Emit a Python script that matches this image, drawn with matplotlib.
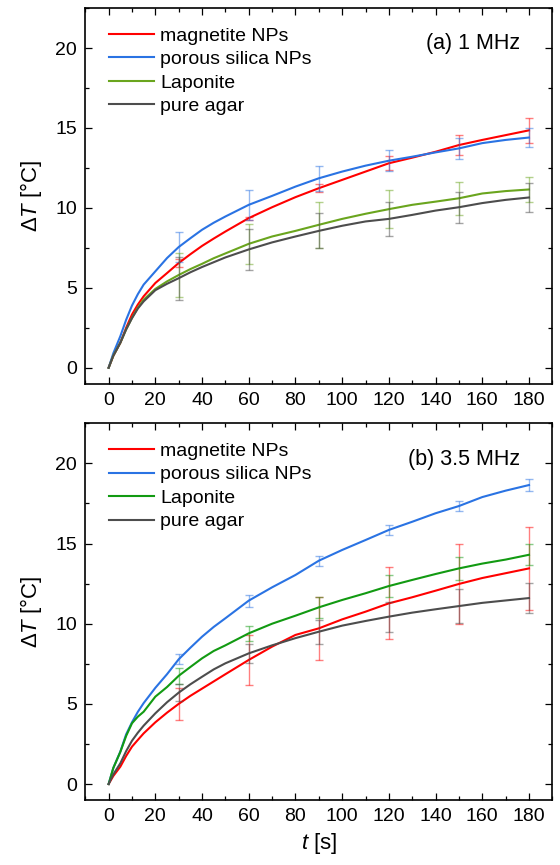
import numpy as np
import matplotlib
matplotlib.use('Agg')
import matplotlib.pyplot as plt
from matplotlib.ticker import MultipleLocator

plt.rcParams['font.family'] = ['Liberation Sans', 'DejaVu Sans']
plt.rcParams['mathtext.fontset'] = 'custom'
plt.rcParams['mathtext.rm'] = 'Liberation Sans'
plt.rcParams['mathtext.it'] = 'Liberation Sans:italic'

# time axis of the curves (s)
t = [0, 2, 5, 7.5, 10, 12.5, 15, 20, 25, 30, 35, 40, 45, 50, 60, 70, 80, 90, 100, 110, 120, 130, 140, 150, 160, 170, 180]
# time points of the error bars (s)
t_err = [30, 60, 90, 120, 150, 180]

labels = ['magnetite NPs', 'porous silica NPs', 'Laponite', 'pure agar']

# (a) 1 MHz
a_magnetite = [0, 0.75, 1.56, 2.50, 3.33, 3.95, 4.47, 5.30, 5.92, 6.55, 7.10, 7.62, 8.08, 8.52, 9.36, 10.04, 10.67, 11.23, 11.75, 12.27, 12.79, 13.14, 13.51, 13.93, 14.25, 14.55, 14.85]
a_silica = [0, 0.90, 1.97, 3.00, 3.89, 4.60, 5.20, 6.03, 6.86, 7.55, 8.10, 8.63, 9.07, 9.46, 10.19, 10.75, 11.33, 11.85, 12.27, 12.64, 12.95, 13.20, 13.47, 13.72, 14.05, 14.25, 14.40]
a_laponite = [0, 0.75, 1.56, 2.40, 3.12, 3.75, 4.26, 4.93, 5.40, 5.80, 6.17, 6.50, 6.85, 7.15, 7.75, 8.21, 8.56, 8.94, 9.31, 9.63, 9.92, 10.19, 10.39, 10.60, 10.90, 11.05, 11.15]
a_agar = [0, 0.75, 1.56, 2.40, 3.10, 3.70, 4.15, 4.85, 5.25, 5.60, 5.97, 6.30, 6.60, 6.90, 7.40, 7.84, 8.21, 8.56, 8.88, 9.15, 9.31, 9.56, 9.83, 10.04, 10.30, 10.50, 10.65]
a_err = [
    [0.28, 0.10, 0.25, 0.45, 0.60, 0.80],
    [0.96, 0.94, 0.80, 0.67, 0.65, 0.60],
    [1.35, 1.25, 1.45, 1.20, 1.04, 0.80],
    [1.35, 1.30, 1.10, 1.05, 0.96, 0.90],
]

# (b) 3.5 MHz
b_magnetite = [0, 0.50, 1.08, 1.75, 2.33, 2.75, 3.16, 3.85, 4.45, 5.00, 5.50, 5.95, 6.40, 6.85, 7.74, 8.57, 9.30, 9.71, 10.27, 10.75, 11.27, 11.65, 12.06, 12.48, 12.85, 13.15, 13.45]
b_silica = [0, 1.00, 2.02, 3.10, 3.85, 4.50, 5.05, 6.00, 6.85, 7.78, 8.50, 9.19, 9.80, 10.34, 11.44, 12.27, 13.04, 13.93, 14.60, 15.22, 15.85, 16.36, 16.89, 17.34, 17.90, 18.30, 18.65]
b_laponite = [0, 1.00, 2.00, 3.00, 3.79, 4.20, 4.51, 5.45, 6.05, 6.75, 7.30, 7.84, 8.30, 8.65, 9.40, 10.00, 10.50, 11.02, 11.48, 11.90, 12.35, 12.73, 13.10, 13.45, 13.75, 14.00, 14.30]
b_agar = [0, 0.60, 1.29, 2.05, 2.70, 3.20, 3.64, 4.41, 5.10, 5.70, 6.22, 6.69, 7.15, 7.53, 8.15, 8.65, 9.10, 9.50, 9.88, 10.17, 10.44, 10.69, 10.90, 11.10, 11.30, 11.45, 11.60]
b_err = [
    [0.98, 1.58, 1.98, 2.25, 2.47, 2.60],
    [0.30, 0.37, 0.30, 0.30, 0.30, 0.35],
    [0.50, 0.45, 0.65, 0.68, 0.70, 0.65],
    [0.55, 0.60, 0.75, 0.93, 1.04, 0.95],
]

colors_a = ['#ff0000', '#2a73e3', '#6aa51e', '#4d4d4d']
colors_b = ['#ff0000', '#2a73e3', '#129a12', '#4d4d4d']


def draw_panel(ax, curves, errs, colors, title):
    for y, e, c, lab in zip(curves, errs, colors, labels):
        ax.plot(t, y, color=c, lw=1.5, label=lab)
        y_at = [y[t.index(tt)] for tt in t_err]
        ax.errorbar(t_err, y_at, yerr=e, fmt='none', ecolor=c, elinewidth=1,
                    capsize=3, capthick=1, alpha=0.5)
    ax.set_xlim(-10, 190)
    ax.set_ylim(-1, 22.5)
    ax.xaxis.set_major_locator(MultipleLocator(20))
    ax.xaxis.set_minor_locator(MultipleLocator(10))
    ax.yaxis.set_major_locator(MultipleLocator(5))
    ax.yaxis.set_minor_locator(MultipleLocator(2.5))
    ax.tick_params(which='both', direction='in', top=True, right=True, width=0.9, labelsize=14)
    ax.tick_params(which='major', length=5, pad=6)
    ax.tick_params(which='minor', length=2.8)
    for s in ax.spines.values():
        s.set_linewidth(1.2)
    ax.set_ylabel('$\\mathit{ΔT}$ [°C]', fontsize=16, labelpad=8)
    ax.text(0.93, 0.905, title, transform=ax.transAxes, ha='right', va='center', fontsize=15.5)
    ax.legend(loc='upper left', bbox_to_anchor=(0.035, 0.97), frameon=False, fontsize=14,
              handlelength=2.3, handletextpad=0.3, labelspacing=0.3, borderaxespad=0)


fig = plt.figure(figsize=(5.6, 8.65), dpi=100)
ax1 = fig.add_axes([0.1523, 0.5564, 0.834, 0.4343])
ax2 = fig.add_axes([0.1523, 0.0751, 0.834, 0.4355])

draw_panel(ax1, [a_magnetite, a_silica, a_laponite, a_agar], a_err, colors_a, '(a) 1 MHz')
draw_panel(ax2, [b_magnetite, b_silica, b_laponite, b_agar], b_err, colors_b, '(b) 3.5 MHz')
ax2.set_xlabel(r'$\mathit{t}$ [s]', fontsize=16, labelpad=4)

plt.savefig('out.png', dpi=100)
